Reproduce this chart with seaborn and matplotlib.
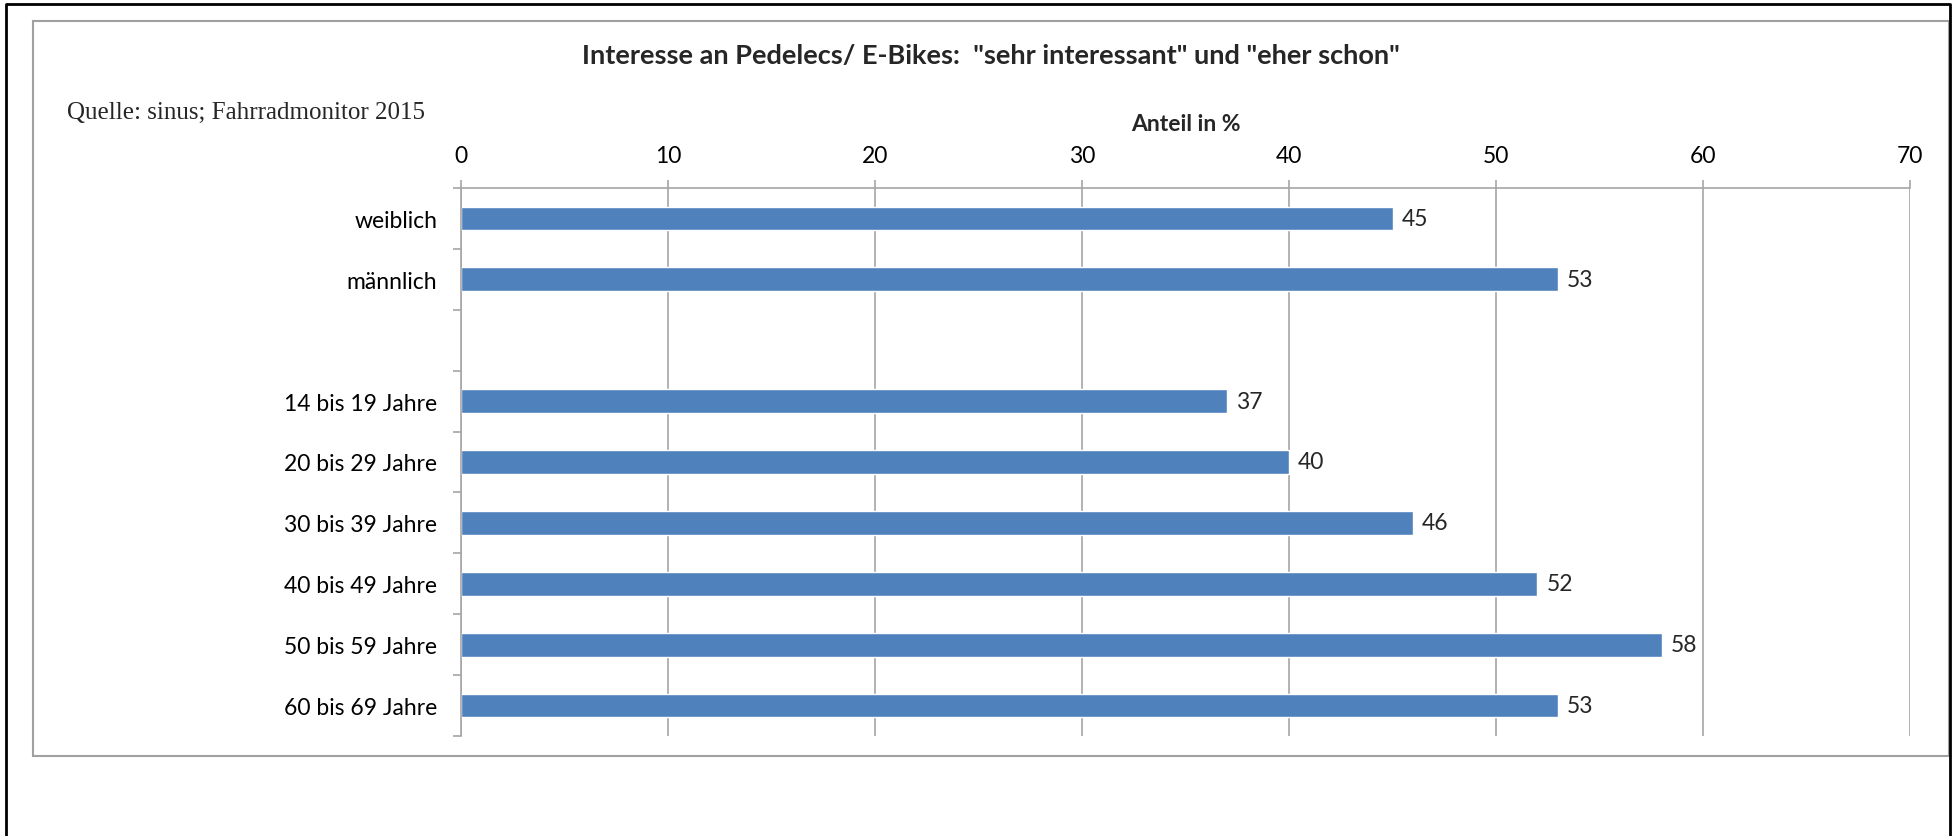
import matplotlib
matplotlib.use('Agg')
import matplotlib.pyplot as plt
import seaborn as sns
import pandas as pd
from matplotlib.lines import Line2D
from matplotlib.patches import Rectangle

# data
categories = ['weiblich', 'männlich', '', '14 bis 19 Jahre', '20 bis 29 Jahre',
              '30 bis 39 Jahre', '40 bis 49 Jahre', '50 bis 59 Jahre', '60 bis 69 Jahre']
labels = ['weiblich', 'männlich', '14 bis 19 Jahre', '20 bis 29 Jahre',
          '30 bis 39 Jahre', '40 bis 49 Jahre', '50 bis 59 Jahre', '60 bis 69 Jahre']
anteil = [45, 53, 37, 40, 46, 52, 58, 53]
x_ticks = [0, 10, 20, 30, 40, 50, 60, 70]

title = 'Interesse an Pedelecs/ E-Bikes:  "sehr interessant" und "eher schon"'
source = 'Quelle: sinus; Fahrradmonitor 2015'

sns.set_theme(style='white')
plt.rcParams['font.family'] = ['Lato', 'DejaVu Sans']

bar_col = '#4F81BD'
grey = '#A6A6A6'
fs = 16.5

df = pd.DataFrame({'kat': labels, 'wert': anteil})

fig = plt.figure(figsize=(19.54, 8.37), dpi=100)
ax = fig.add_axes([0.2359, 0.1195, 0.7416, 0.6547])

sns.barplot(data=df, x='wert', y='kat', order=categories, orient='h',
            color=bar_col, saturation=1, width=0.39, ax=ax)

ax.set_xlim(0, 70)
ax.set_ylim(len(categories) - 0.5, -0.5)

# x axis on top
ax.xaxis.tick_top()
ax.set_xticks(x_ticks)
ax.tick_params(axis='x', which='major', length=5.8, width=1.2, color=grey,
               labelsize=fs, pad=10, labelcolor='black', direction='out')
ax.xaxis.set_label_position('top')
ax.set_xlabel('Anteil in %', fontsize=16.5, fontweight='bold', labelpad=11)
ax.grid(axis='x', color=grey, linewidth=1.2)
ax.set_axisbelow(True)

# category labels without tick lines, boundary ticks on the left
ax.set_yticks(range(len(categories)))
ax.set_yticklabels(categories)
ax.set_ylabel('')
ax.tick_params(axis='y', which='major', length=0, labelsize=fs, pad=17, labelcolor='black')
ax.set_yticks([i - 0.5 for i in range(len(categories) + 1)], minor=True)
ax.tick_params(axis='y', which='minor', length=5.8, width=1.2, color=grey, direction='out', left=True)

for side in ['right', 'bottom']:
    ax.spines[side].set_visible(False)
for side in ['left', 'top']:
    ax.spines[side].set_color(grey)
    ax.spines[side].set_linewidth(1.2)

for cont in ax.containers:
    ax.bar_label(cont, labels=[str(v) for v in anteil], padding=6.5, fontsize=fs)

# title and source
fig.text(991 / 1954, 1 - 56 / 837, title, ha='center', va='center',
         fontsize=19.5, fontweight='bold')
fig.text(67 / 1954, 1 - 113 / 837, source, ha='left', va='center',
         fontsize=18, family=['Liberation Serif', 'DejaVu Serif'])

# frames: grey chart area and black outer border
fig.add_artist(Rectangle((33 / 1954, 1 - 757 / 837), (1949 - 33) / 1954, (757 - 22) / 837,
                         transform=fig.transFigure, fill=False, edgecolor='#A0A0A0', linewidth=1.5))
fig.add_artist(Line2D([6 / 1954, 6 / 1954, 1950 / 1954, 1950 / 1954], [0, 1 - 5 / 837, 1 - 5 / 837, 0],
                      transform=fig.transFigure, color='black', linewidth=2))

fig.savefig('out.png', dpi=100)
